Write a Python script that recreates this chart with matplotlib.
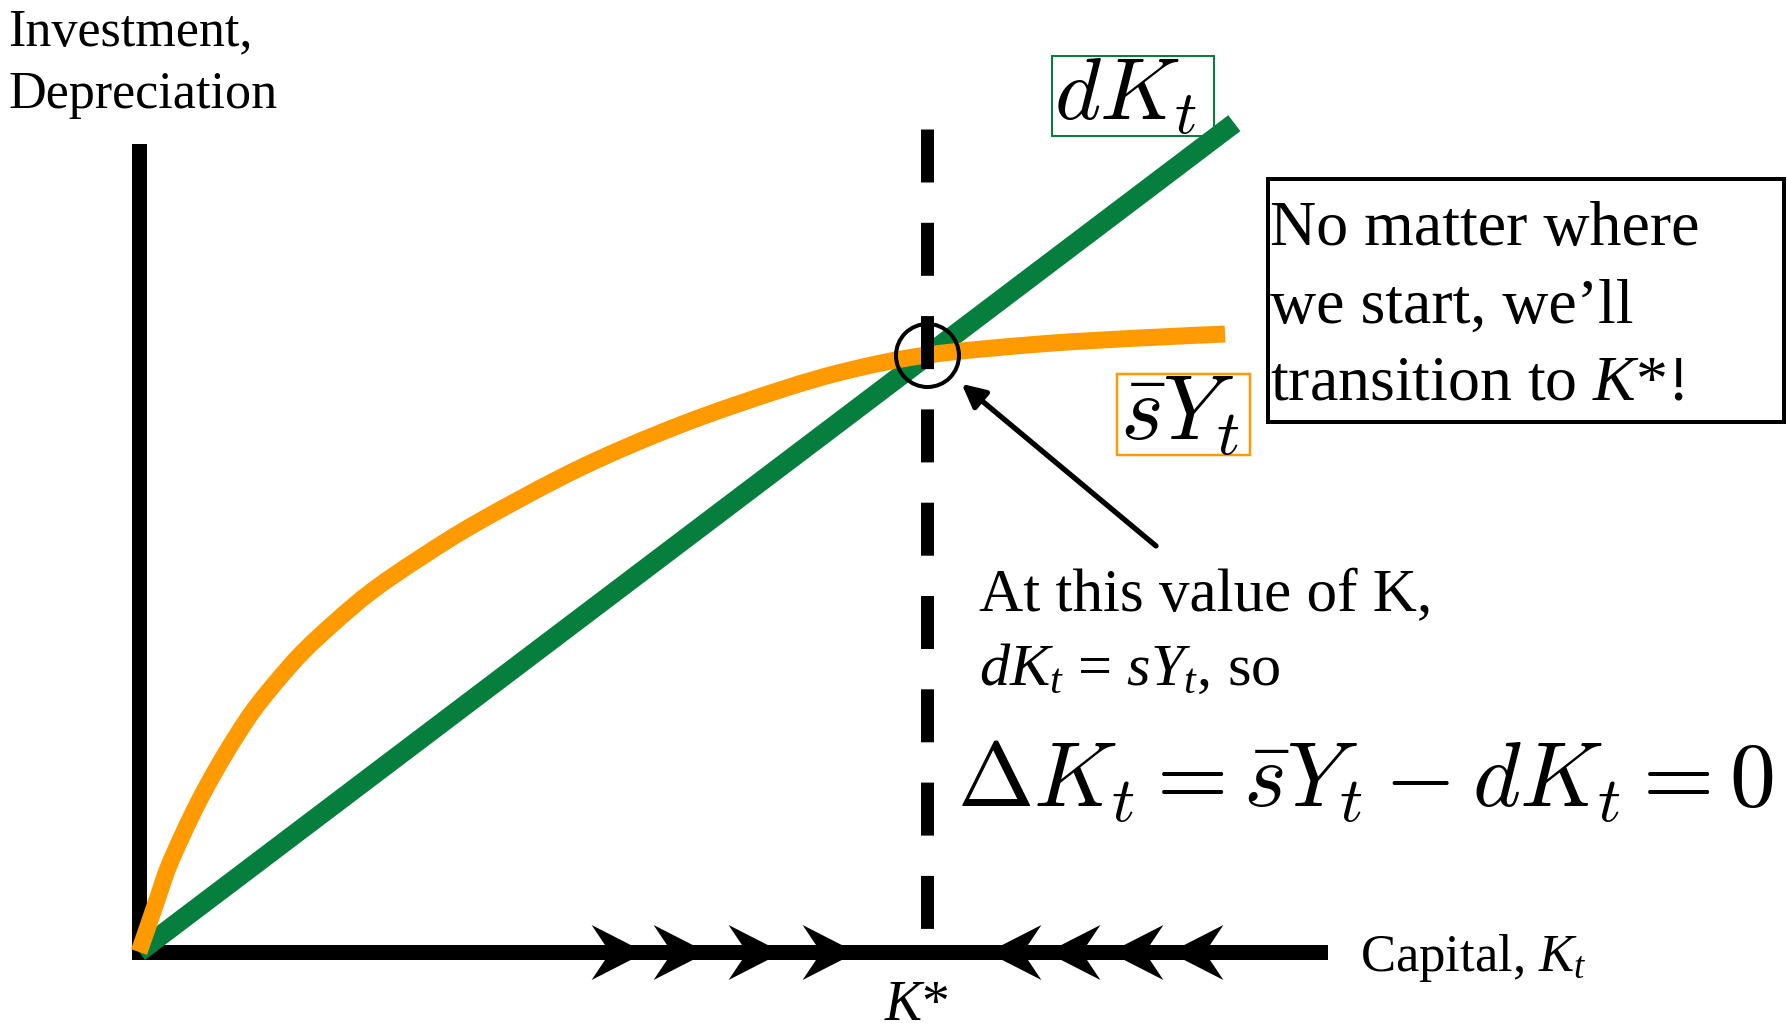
import matplotlib
matplotlib.use("Agg")
import matplotlib.pyplot as plt
import numpy as np
from matplotlib.path import Path
from matplotlib.patches import Rectangle, FancyArrowPatch, PathPatch

plt.rcParams['font.family'] = ['Liberation Serif', 'DejaVu Serif']
plt.rcParams['mathtext.fontset'] = 'custom'
plt.rcParams['mathtext.rm'] = 'Liberation Serif'
plt.rcParams['mathtext.it'] = 'Liberation Serif:italic'
plt.rcParams['mathtext.bf'] = 'Liberation Serif:bold'
plt.rcParams['lines.scale_dashes'] = False

# ---------------- data ----------------
# depreciation line dK_t (straight line through the origin)
dep_K = [0.0, 1.390]
dep_val = [0.0, 1.386]

# saving / investment curve  s*Y_t
inv_K = [0.0, 0.0102, 0.0228, 0.0368, 0.0558, 0.0761, 0.0990, 0.1244, 0.1523,
         0.2018, 0.2487, 0.2957, 0.3566, 0.4327, 0.5596, 0.6866, 0.8135,
         0.9023, 1.0000, 1.1434, 1.2703, 1.3782]
inv_val = [0.0, 0.0385, 0.0870, 0.1405, 0.1973, 0.2525, 0.3077, 0.3629, 0.4164,
           0.4933, 0.5518, 0.6037, 0.6589, 0.7207, 0.8094, 0.8813, 0.9398,
           0.9732, 0.9983, 1.0167, 1.0268, 1.0334]

# steady state
K_star = 1.0
Y_star = 0.998
dash_top = 1.376
dash_bottom = 0.0385

# arrow markers on the capital axis
arrows_right_K = [0.608, 0.687, 0.782, 0.876]
arrows_left_K = [1.111, 1.185, 1.265, 1.342]

# annotation arrow (tail -> head)
note_tail = (1.2906, 0.679)
note_head = (1.044, 0.950)

# texts
ylabel_lines = ["Investment,", "Depreciation"]
xlabel = r"Capital, $K_t$"
kstar_label = r"$K$*"
dep_label = r"$dK_t$"
inv_label = r"$\bar{s}Y_t$"
box_lines = ["No matter where", "we start, we\u2019ll", r"transition to $K$*!"]
note_lines = ["At this value of K,", r"$dK_t$ = $sY_t$, so"]
equation = r"$\Delta K_t = \bar{s}Y_t - dK_t = 0$"

GREEN = '#067F3E'
ORANGE = '#FF9A00'

# ---------------- figure ----------------
W, H = 1787, 1030
DPI = 100
PT = 72.0 / DPI  # points per pixel

fig = plt.figure(figsize=(W / DPI, H / DPI), dpi=DPI)

def fx(x):
    return x / W

def fy(y):
    return 1 - y / H

left_px, right_px, bottom_px, top_px = 139, 1319.5, 952, 150.5
ax = fig.add_axes([fx(left_px), fy(bottom_px), (right_px - left_px) / W,
                   (bottom_px - top_px) / H])
ax.set_xlim(0, (right_px - left_px) / 788.0)
ax.set_ylim(0, (bottom_px - top_px) / 598.0)
ax.set_xticks([])
ax.set_yticks([])
ax.patch.set_alpha(0)
for s in ['top', 'right']:
    ax.spines[s].set_visible(False)
for s in ['left', 'bottom']:
    ax.spines[s].set_linewidth(15 * PT)
    ax.spines[s].set_color('black')
    ax.spines[s].set_capstyle('projecting')

# depreciation line
ax.plot(dep_K, dep_val, color=GREEN, lw=20 * PT, solid_capstyle='butt',
        clip_on=False, zorder=3)


def smooth_path(xs, ys):
    """Cubic Bezier (Catmull-Rom) path passing through every read point."""
    P = np.column_stack([xs, ys]).astype(float)
    n = len(P)
    verts = [P[0]]
    codes = [Path.MOVETO]
    for i in range(n - 1):
        p0 = P[i - 1] if i > 0 else P[i]
        p1 = P[i]
        p2 = P[i + 1]
        p3 = P[i + 2] if i + 2 < n else P[i + 1]
        c1 = p1 + (p2 - p0) / 6.0
        c2 = p2 - (p3 - p1) / 6.0
        verts += [c1, c2, p2]
        codes += [Path.CURVE4] * 3
    return Path(verts, codes)


# investment curve, drawn smoothly through the read points
inv_patch = PathPatch(smooth_path(inv_K, inv_val), transform=ax.transData,
                      fill=False, edgecolor=ORANGE, lw=17 * PT, capstyle='butt',
                      joinstyle='round', clip_on=False, zorder=4)
ax.add_patch(inv_patch)

# dashed steady-state line
ax.plot([K_star, K_star], [dash_top, dash_bottom], color='black', lw=13 * PT,
        linestyle=(0, (53 * PT, 40.3 * PT)), dash_capstyle='butt',
        clip_on=False, zorder=5)
# circle at the intersection
ax.plot([K_star], [Y_star], marker='o', markersize=63 * PT, mfc='none',
        mec='black', mew=4 * PT, clip_on=False, zorder=6)

# arrowheads on the axis
right_head = Path([(26.9, 0), (-26.9, 27.5), (-8.5, 0), (-26.9, -27.5), (26.9, 0)],
                  [Path.MOVETO, Path.LINETO, Path.LINETO, Path.LINETO, Path.CLOSEPOLY])
left_head = Path([(-26.9, 0), (26.9, 27.5), (8.5, 0), (26.9, -27.5), (-26.9, 0)],
                 [Path.MOVETO, Path.LINETO, Path.LINETO, Path.LINETO, Path.CLOSEPOLY])
ax.plot(arrows_right_K, [0] * len(arrows_right_K), linestyle='none',
        marker=right_head, markersize=55 * PT, color='black', mew=0,
        clip_on=False, zorder=7)
ax.plot(arrows_left_K, [0] * len(arrows_left_K), linestyle='none',
        marker=left_head, markersize=55 * PT, color='black', mew=0,
        clip_on=False, zorder=7)

# annotation arrow
arr = FancyArrowPatch(note_tail, note_head, arrowstyle='-|>,head_length=14,head_width=7',
                      mutation_scale=1, lw=5.3 * PT, color='black',
                      shrinkA=0, shrinkB=0, clip_on=False, zorder=7)
ax.add_patch(arr)

# ---------------- texts ----------------
fig.text(fx(8), fy(45), ylabel_lines[0], fontsize=37.5, va='baseline', ha='left')
fig.text(fx(8), fy(108), ylabel_lines[1], fontsize=37.5, va='baseline', ha='left')

fig.text(fx(1360), fy(971), xlabel, fontsize=38, va='baseline', ha='left')
fig.text(fx(884), fy(1020), kstar_label, fontsize=40, va='baseline', ha='left')

# curve labels with boxes
fig.text(fx(1054), fy(120), dep_label, fontsize=63.5, math_fontfamily='cm',
         va='baseline', ha='left')
fig.add_artist(Rectangle((fx(1052), fy(136)), (1214 - 1052) / W, (136 - 56) / H,
                         transform=fig.transFigure, fill=False, ec=GREEN, lw=2 * PT))
fig.text(fx(1120), fy(439), inv_label, fontsize=66, math_fontfamily='cm',
         va='baseline', ha='left')
fig.add_artist(Rectangle((fx(1117), fy(455)), (1250 - 1117) / W, (455 - 374) / H,
                         transform=fig.transFigure, fill=False, ec=ORANGE, lw=2.5 * PT))

# black text box
for txt, yb in zip(box_lines, [245, 323, 400]):
    fig.text(fx(1270), fy(yb), txt, fontsize=46, va='baseline', ha='left')
fig.add_artist(Rectangle((fx(1268), fy(422)), (1784 - 1268) / W, (422 - 179) / H,
                         transform=fig.transFigure, fill=False, ec='black', lw=4 * PT))

# note under the arrow
fig.text(fx(979), fy(611), note_lines[0], fontsize=44, va='baseline', ha='left')
fig.text(fx(979), fy(685), note_lines[1], fontsize=43.5, va='baseline', ha='left')

fig.text(fx(957), fy(806), equation, fontsize=66, math_fontfamily='cm',
         va='baseline', ha='left')

fig.savefig("out.png", dpi=DPI)
